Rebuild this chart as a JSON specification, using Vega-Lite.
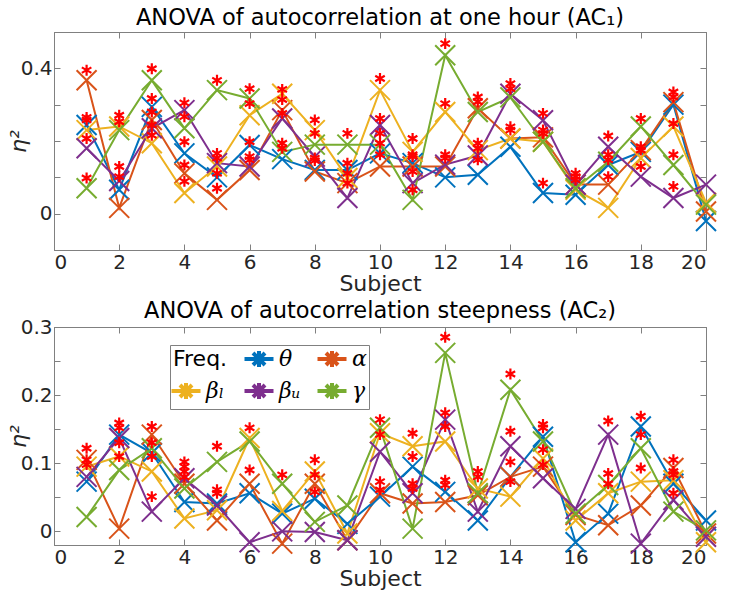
{
  "$schema": "https://vega.github.io/schema/vega-lite/v6.json",
  "padding": {"left": 6, "top": 6, "right": 5, "bottom": 2},
  "background": "white",
  "config": {
    "font": "DejaVu Sans",
    "view": {"stroke": "#808080", "strokeWidth": 1},
    "axis": {"labelFontSize": 20, "titleFontSize": 22, "titleFontWeight": "normal", "labelColor": "#262626", "titleColor": "#262626", "domainColor": "#808080", "tickColor": "#808080", "tickSize": -6, "grid": false},
    "axisX": {"labelPadding": 8, "titlePadding": 1},
    "axisY": {"labelPadding": 8},
    "title": {"fontSize": 22.5, "fontWeight": "normal", "color": "#000000", "offset": 2}
  },
  "datasets": {
    "ac1": [
      {"s": 1, "θ": 0.244, "α": 0.367, "βₗ": 0.23, "βᵤ": 0.18, "γ": 0.07},
      {"s": 2, "θ": 0.066, "α": 0.016, "βₗ": 0.24, "βᵤ": 0.09, "γ": 0.23},
      {"s": 3, "θ": 0.294, "α": 0.258, "βₗ": 0.194, "βᵤ": 0.235, "γ": 0.367},
      {"s": 4, "θ": 0.166, "α": 0.111, "βₗ": 0.057, "βᵤ": 0.285, "γ": 0.235},
      {"s": 5, "θ": 0.10, "α": 0.038, "βₗ": 0.13, "βᵤ": 0.139, "γ": 0.34},
      {"s": 6, "θ": 0.189, "α": 0.12, "βₗ": 0.271, "βᵤ": 0.13, "γ": 0.317},
      {"s": 7, "θ": 0.15, "α": 0.285, "βₗ": 0.33, "βᵤ": 0.262, "γ": 0.17},
      {"s": 8, "θ": 0.12, "α": 0.116, "βₗ": 0.23, "βᵤ": 0.157, "γ": 0.19},
      {"s": 9, "θ": 0.12, "α": 0.084, "βₗ": 0.098, "βᵤ": 0.043, "γ": 0.19},
      {"s": 10, "θ": 0.166, "α": 0.13, "βₗ": 0.34, "βᵤ": 0.244, "γ": 0.19},
      {"s": 11, "θ": 0.139, "α": 0.13, "βₗ": 0.17, "βᵤ": 0.084, "γ": 0.038},
      {"s": 12, "θ": 0.10, "α": 0.13, "βₗ": 0.28, "βᵤ": 0.135, "γ": 0.436},
      {"s": 13, "θ": 0.107, "α": 0.29, "βₗ": 0.175, "βᵤ": 0.16, "γ": 0.28},
      {"s": 14, "θ": 0.184, "α": 0.207, "βₗ": 0.207, "βᵤ": 0.33, "γ": 0.32},
      {"s": 15, "θ": 0.057, "α": 0.21, "βₗ": 0.198, "βᵤ": 0.257, "γ": 0.198},
      {"s": 16, "θ": 0.052, "α": 0.08, "βₗ": 0.066, "βᵤ": 0.08, "γ": 0.07},
      {"s": 17, "θ": 0.134, "α": 0.08, "βₗ": 0.016, "βᵤ": 0.184, "γ": 0.143},
      {"s": 18, "θ": 0.17, "α": 0.175, "βₗ": 0.153, "βᵤ": 0.102, "γ": 0.24},
      {"s": 19, "θ": 0.30, "α": 0.307, "βₗ": 0.24, "βᵤ": 0.043, "γ": 0.134},
      {"s": 20, "θ": -0.02, "α": 0.006, "βₗ": 0.03, "βᵤ": 0.08, "γ": 0.025}
    ],
    "ac2": [
      {"s": 1, "θ": 0.073, "α": 0.105, "βₗ": 0.095, "βᵤ": 0.08, "γ": 0.021},
      {"s": 2, "θ": 0.142, "α": 0.004, "βₗ": 0.11, "βᵤ": 0.137, "γ": 0.09},
      {"s": 3, "θ": 0.115, "α": 0.142, "βₗ": 0.088, "βᵤ": 0.029, "γ": 0.122},
      {"s": 4, "θ": 0.043, "α": 0.07, "βₗ": 0.019, "βᵤ": 0.078, "γ": 0.063},
      {"s": 5, "θ": 0.041, "α": 0.016, "βₗ": 0.031, "βᵤ": 0.038, "γ": 0.102},
      {"s": 6, "θ": 0.056, "α": 0.07, "βₗ": 0.137, "βᵤ": -0.016, "γ": 0.132},
      {"s": 7, "θ": 0.026, "α": -0.018, "βₗ": 0.03, "βᵤ": 0.0, "γ": 0.07},
      {"s": 8, "θ": 0.048, "α": 0.07, "βₗ": 0.088, "βᵤ": -0.001, "γ": 0.014},
      {"s": 9, "θ": 0.011, "α": -0.013, "βₗ": -0.003, "βᵤ": -0.013, "γ": 0.038},
      {"s": 10, "θ": 0.051, "α": 0.056, "βₗ": 0.144, "βᵤ": 0.117, "γ": 0.152},
      {"s": 11, "θ": 0.095, "α": 0.041, "βₗ": 0.125, "βᵤ": 0.056, "γ": 0.004},
      {"s": 12, "θ": 0.058, "α": 0.043, "βₗ": 0.132, "βᵤ": 0.164, "γ": 0.262},
      {"s": 13, "θ": 0.016, "α": 0.053, "βₗ": 0.063, "βᵤ": 0.029, "γ": 0.056},
      {"s": 14, "θ": 0.08, "α": 0.08, "βₗ": 0.051, "βᵤ": 0.125, "γ": 0.208},
      {"s": 15, "θ": 0.139, "α": 0.095, "βₗ": 0.107, "βᵤ": 0.078, "γ": 0.132},
      {"s": 16, "θ": -0.016, "α": 0.024, "βₗ": 0.016, "βᵤ": 0.033, "γ": 0.026},
      {"s": 17, "θ": 0.026, "α": 0.009, "βₗ": 0.056, "βᵤ": 0.142, "γ": 0.068},
      {"s": 18, "θ": 0.154, "α": 0.038, "βₗ": 0.073, "βᵤ": -0.018, "γ": 0.122},
      {"s": 19, "θ": 0.07, "α": 0.093, "βₗ": 0.075, "βᵤ": 0.046, "γ": 0.029},
      {"s": 20, "θ": 0.016, "α": -0.003, "βₗ": -0.016, "βᵤ": -0.008, "γ": 0.0015}
    ],
    "st1": [
      {"s": 1, "v": 0.395}, {"s": 1, "v": 0.265}, {"s": 1, "v": 0.258}, {"s": 1, "v": 0.207}, {"s": 1, "v": 0.098},
      {"s": 2, "v": 0.271}, {"s": 2, "v": 0.253}, {"s": 2, "v": 0.13}, {"s": 2, "v": 0.102},
      {"s": 3, "v": 0.399}, {"s": 3, "v": 0.317}, {"s": 3, "v": 0.28}, {"s": 3, "v": 0.244}, {"s": 3, "v": 0.216},
      {"s": 4, "v": 0.305}, {"s": 4, "v": 0.267}, {"s": 4, "v": 0.198}, {"s": 4, "v": 0.134}, {"s": 4, "v": 0.089},
      {"s": 5, "v": 0.367}, {"s": 5, "v": 0.166}, {"s": 5, "v": 0.153}, {"s": 5, "v": 0.111}, {"s": 5, "v": 0.07},
      {"s": 6, "v": 0.344}, {"s": 6, "v": 0.303}, {"s": 6, "v": 0.198}, {"s": 6, "v": 0.157}, {"s": 6, "v": 0.148},
      {"s": 7, "v": 0.342}, {"s": 7, "v": 0.314}, {"s": 7, "v": 0.276}, {"s": 7, "v": 0.194}, {"s": 7, "v": 0.18},
      {"s": 8, "v": 0.258}, {"s": 8, "v": 0.221}, {"s": 8, "v": 0.153}, {"s": 8, "v": 0.146},
      {"s": 9, "v": 0.221}, {"s": 9, "v": 0.139}, {"s": 9, "v": 0.111}, {"s": 9, "v": 0.084},
      {"s": 10, "v": 0.372}, {"s": 10, "v": 0.262}, {"s": 10, "v": 0.221}, {"s": 10, "v": 0.194}, {"s": 10, "v": 0.162},
      {"s": 11, "v": 0.207}, {"s": 11, "v": 0.162}, {"s": 11, "v": 0.157}, {"s": 11, "v": 0.116}, {"s": 11, "v": 0.066},
      {"s": 12, "v": 0.468}, {"s": 12, "v": 0.303}, {"s": 12, "v": 0.162}, {"s": 12, "v": 0.153},
      {"s": 13, "v": 0.321}, {"s": 13, "v": 0.308}, {"s": 13, "v": 0.194}, {"s": 13, "v": 0.18}, {"s": 13, "v": 0.148},
      {"s": 14, "v": 0.358}, {"s": 14, "v": 0.344}, {"s": 14, "v": 0.239}, {"s": 14, "v": 0.23},
      {"s": 15, "v": 0.276}, {"s": 15, "v": 0.23}, {"s": 15, "v": 0.221}, {"s": 15, "v": 0.084},
      {"s": 16, "v": 0.111}, {"s": 16, "v": 0.102}, {"s": 16, "v": 0.093},
      {"s": 17, "v": 0.214}, {"s": 17, "v": 0.162}, {"s": 17, "v": 0.148}, {"s": 17, "v": 0.102},
      {"s": 18, "v": 0.262}, {"s": 18, "v": 0.184}, {"s": 18, "v": 0.175}, {"s": 18, "v": 0.13},
      {"s": 19, "v": 0.335}, {"s": 19, "v": 0.321}, {"s": 19, "v": 0.248}, {"s": 19, "v": 0.162}, {"s": 19, "v": 0.075}
    ],
    "st2": [
      {"s": 1, "v": 0.122}, {"s": 1, "v": 0.105}, {"s": 1, "v": 0.098},
      {"s": 2, "v": 0.159}, {"s": 2, "v": 0.152}, {"s": 2, "v": 0.13}, {"s": 2, "v": 0.11},
      {"s": 3, "v": 0.154}, {"s": 3, "v": 0.13}, {"s": 3, "v": 0.11}, {"s": 3, "v": 0.051},
      {"s": 4, "v": 0.102}, {"s": 4, "v": 0.095}, {"s": 4, "v": 0.088}, {"s": 4, "v": 0.08},
      {"s": 5, "v": 0.125}, {"s": 5, "v": 0.061}, {"s": 5, "v": 0.056},
      {"s": 6, "v": 0.152}, {"s": 6, "v": 0.09},
      {"s": 7, "v": 0.083},
      {"s": 8, "v": 0.105}, {"s": 8, "v": 0.083}, {"s": 8, "v": 0.058},
      {"s": 10, "v": 0.164}, {"s": 10, "v": 0.142}, {"s": 10, "v": 0.073}, {"s": 10, "v": 0.061},
      {"s": 11, "v": 0.144}, {"s": 11, "v": 0.11}, {"s": 11, "v": 0.07}, {"s": 11, "v": 0.063},
      {"s": 12, "v": 0.285}, {"s": 12, "v": 0.174}, {"s": 12, "v": 0.154}, {"s": 12, "v": 0.075}, {"s": 12, "v": 0.068},
      {"s": 13, "v": 0.088}, {"s": 13, "v": 0.08},
      {"s": 14, "v": 0.231}, {"s": 14, "v": 0.147}, {"s": 14, "v": 0.102}, {"s": 14, "v": 0.073},
      {"s": 15, "v": 0.157}, {"s": 15, "v": 0.152}, {"s": 15, "v": 0.12}, {"s": 15, "v": 0.098},
      {"s": 17, "v": 0.162}, {"s": 17, "v": 0.085}, {"s": 17, "v": 0.07},
      {"s": 18, "v": 0.169}, {"s": 18, "v": 0.142}, {"s": 18, "v": 0.093},
      {"s": 19, "v": 0.105}, {"s": 19, "v": 0.088}, {"s": 19, "v": 0.083}, {"s": 19, "v": 0.056}
    ]
  },
  "spacing": 4,
  "resolve": {"scale": {"color": "independent"}},
  "vconcat": [
    {
      "width": 652,
      "height": 218,
      "title": {"text": "ANOVA of autocorrelation at one hour (AC₁)"},
      "resolve": {"axis": {"x": "independent", "y": "independent"}},
      "layer": [
        {
          "data": {"name": "ac1"},
          "transform": [{"fold": ["θ", "α", "βₗ", "βᵤ", "γ"], "as": ["f", "v"]}],
          "mark": {"type": "line", "strokeWidth": 2},
          "encoding": {
            "x": {"field": "s", "type": "quantitative", "scale": {"domain": [0, 20], "nice": false}, "axis": {"orient": "bottom", "values": [0, 2, 4, 6, 8, 10, 12, 14, 16, 18, 20], "title": "Subject"}},
            "y": {"field": "v", "type": "quantitative", "scale": {"domain": [-0.1, 0.5], "nice": false, "zero": false}, "axis": {"orient": "left", "values": [0, 0.1, 0.2, 0.3, 0.4], "labelExpr": "datum.value == 0 ? '0' : (datum.value == 0.4 ? '0.4' : '')", "title": "η²", "titleFontStyle": "italic", "titleX": -24, "titleY": 109}},
            "color": {"field": "f", "type": "nominal", "scale": {"domain": ["Freq.", "θ", "α", "βₗ", "βᵤ", "γ"], "range": ["#ffffff", "#0072BD", "#D95319", "#EDB120", "#7E2F8E", "#77AC30"]}, "legend": null},
            "order": {"field": "s", "type": "quantitative"}
          }
        },
        {
          "data": {"name": "ac1"},
          "transform": [{"fold": ["θ", "α", "βₗ", "βᵤ", "γ"], "as": ["f", "v"]}],
          "mark": {"type": "point", "shape": "M-1,-1L1,1M-1,1L1,-1", "filled": false, "size": 400, "strokeWidth": 2, "opacity": 1},
          "encoding": {
            "x": {"field": "s", "type": "quantitative", "axis": null},
            "y": {"field": "v", "type": "quantitative", "axis": null},
            "color": {"field": "f", "type": "nominal", "legend": null}
          }
        },
        {
          "data": {"name": "st1"},
          "mark": {"type": "point", "shape": "M0,-1L0,1M-0.87,-0.5L0.87,0.5M-0.87,0.5L0.87,-0.5", "filled": false, "size": 120, "strokeWidth": 2.2, "color": "#FF0000", "opacity": 1},
          "encoding": {
            "x": {"field": "s", "type": "quantitative", "axis": {"orient": "top", "values": [0, 2, 4, 6, 8, 10, 12, 14, 16, 18, 20], "labels": false, "title": null}},
            "y": {"field": "v", "type": "quantitative", "axis": {"orient": "right", "values": [0, 0.1, 0.2, 0.3, 0.4], "labels": false, "title": null}}
          }
        }
      ]
    },
    {
      "width": 652,
      "height": 218,
      "title": {"text": "ANOVA of autocorrelation steepness (AC₂)", "offset": -5},
      "resolve": {"axis": {"x": "independent", "y": "independent"}},
      "layer": [
        {
          "data": {"name": "ac2"},
          "transform": [{"fold": ["θ", "α", "βₗ", "βᵤ", "γ"], "as": ["f", "v"]}],
          "mark": {"type": "line", "strokeWidth": 2},
          "encoding": {
            "x": {"field": "s", "type": "quantitative", "scale": {"domain": [0, 20], "nice": false}, "axis": {"orient": "bottom", "values": [0, 2, 4, 6, 8, 10, 12, 14, 16, 18, 20], "title": "Subject"}},
            "y": {"field": "v", "type": "quantitative", "scale": {"domain": [-0.02, 0.3], "nice": false, "zero": false}, "axis": {"orient": "left", "values": [0, 0.05, 0.1, 0.15, 0.2, 0.25, 0.3], "labelExpr": "datum.value == 0 ? '0' : (datum.value == 0.1 ? '0.1' : (datum.value == 0.2 ? '0.2' : (datum.value == 0.3 ? '0.3' : '')))", "title": "η²", "titleFontStyle": "italic", "titleX": -24, "titleY": 109}},
            "color": {"field": "f", "type": "nominal", "scale": {"domain": ["Freq.", "θ", "α", "βₗ", "βᵤ", "γ"], "range": ["#ffffff", "#0072BD", "#D95319", "#EDB120", "#7E2F8E", "#77AC30"]},
              "legend": {"orient": "none", "legendX": 116, "legendY": 18, "columns": 3, "direction": "horizontal", "title": null, "symbolType": "M-1.45,0L1.45,0M0,-0.8L0,0.8M-0.6,-0.6L0.6,0.6M-0.6,0.6L0.6,-0.6", "symbolSize": 400, "symbolStrokeWidth": 4, "labelFontSize": 22, "labelLimit": 200, "labelColor": "#000000", "labelOffset": 10, "strokeColor": "#808080", "fillColor": "#ffffff", "padding": 2, "columnPadding": 8, "rowPadding": 0,
                "encode": {"labels": {"update": {"dx": {"signal": "datum.value === 'Freq.' ? -33 : 0"}, "font": {"signal": "datum.value === 'Freq.' ? 'DejaVu Sans' : 'DejaVu Serif'"}, "fontStyle": {"signal": "datum.value === 'Freq.' ? 'normal' : 'italic'"}}}, "symbols": {"update": {"xc": {"value": 14}}}}}},
            "order": {"field": "s", "type": "quantitative"}
          }
        },
        {
          "data": {"name": "ac2"},
          "transform": [{"fold": ["θ", "α", "βₗ", "βᵤ", "γ"], "as": ["f", "v"]}],
          "mark": {"type": "point", "shape": "M-1,-1L1,1M-1,1L1,-1", "filled": false, "size": 400, "strokeWidth": 2, "opacity": 1},
          "encoding": {
            "x": {"field": "s", "type": "quantitative", "axis": null},
            "y": {"field": "v", "type": "quantitative", "axis": null},
            "color": {"field": "f", "type": "nominal"}
          }
        },
        {
          "data": {"name": "st2"},
          "mark": {"type": "point", "shape": "M0,-1L0,1M-0.87,-0.5L0.87,0.5M-0.87,0.5L0.87,-0.5", "filled": false, "size": 120, "strokeWidth": 2.2, "color": "#FF0000", "opacity": 1},
          "encoding": {
            "x": {"field": "s", "type": "quantitative", "axis": {"orient": "top", "values": [0, 2, 4, 6, 8, 10, 12, 14, 16, 18, 20], "labels": false, "title": null}},
            "y": {"field": "v", "type": "quantitative", "axis": {"orient": "right", "values": [0, 0.05, 0.1, 0.15, 0.2, 0.25, 0.3], "labels": false, "title": null}}
          }
        }
      ]
    }
  ]
}
